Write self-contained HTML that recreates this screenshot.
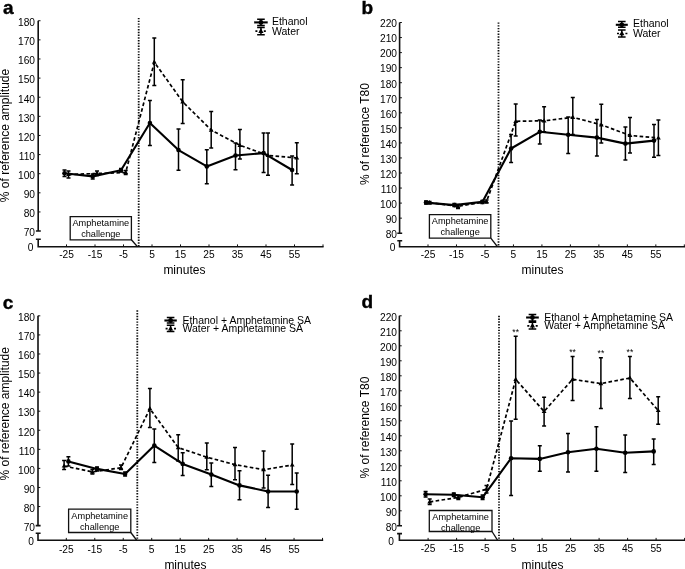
<!DOCTYPE html>
<html><head><meta charset="utf-8"><style>
html,body{margin:0;padding:0;background:#fff;}
body{width:685px;height:569px;overflow:hidden;}
svg{display:block;will-change:transform;}
text{font-family:"Liberation Sans", sans-serif;fill:#000;}
.tl{font-size:10.2px;}
.al{font-size:12px;}
.pl{font-size:19px;font-weight:bold;fill:#000;stroke:#000;stroke-width:0.4px;}
.bt{font-size:9.2px;}
.lg{font-size:10.5px;}
.st{font-size:8.6px;}
.ax{fill:none;stroke:#111;stroke-width:1.6;}
.tk{fill:none;stroke:#111;stroke-width:1;}
.dot{fill:none;stroke:#111;stroke-width:1.8;stroke-dasharray:1.4 1.37;}
.box{fill:none;stroke:#111;stroke-width:1.3;}
.sol{fill:none;stroke:#000;stroke-width:2.1;stroke-linejoin:round;}
.dsh{fill:none;stroke:#000;stroke-width:1.7;stroke-dasharray:3.6 2.4;}
.eb{fill:none;stroke:#000;stroke-width:1.5;}
circle,path:not([class]){fill:#000;}
</style></head><body>
<svg width="685" height="569" viewBox="0 0 685 569">
<path d="M38.2 20.74V231.06M35.9 231.06H40.8M35.9 239.2H40.8M38.2 239.2V246.7H323.6" class="ax"/>
<text x="35" y="26.04" class="tl" text-anchor="end">180</text>
<text x="35" y="45.16" class="tl" text-anchor="end">170</text>
<text x="35" y="64.28" class="tl" text-anchor="end">160</text>
<text x="35" y="83.4" class="tl" text-anchor="end">150</text>
<text x="35" y="102.52" class="tl" text-anchor="end">140</text>
<text x="35" y="121.64" class="tl" text-anchor="end">130</text>
<text x="35" y="140.76" class="tl" text-anchor="end">120</text>
<text x="35" y="159.88" class="tl" text-anchor="end">110</text>
<text x="35" y="179" class="tl" text-anchor="end">100</text>
<text x="35" y="198.12" class="tl" text-anchor="end">90</text>
<text x="35" y="217.24" class="tl" text-anchor="end">80</text>
<text x="35" y="236.36" class="tl" text-anchor="end">70</text>
<path d="M38.2 20.74h2.3M38.2 39.86h2.3M38.2 58.98h2.3M38.2 78.1h2.3M38.2 97.22h2.3M38.2 116.34h2.3M38.2 135.46h2.3M38.2 154.58h2.3M38.2 173.7h2.3M38.2 192.82h2.3M38.2 211.94h2.3" class="tk"/>
<text x="33.5" y="251.4" class="tl" text-anchor="end">0</text>
<text x="66.5" y="257.8" class="tl" text-anchor="middle">-25</text>
<text x="95" y="257.8" class="tl" text-anchor="middle">-15</text>
<text x="123.5" y="257.8" class="tl" text-anchor="middle">-5</text>
<text x="152" y="257.8" class="tl" text-anchor="middle">5</text>
<text x="180.5" y="257.8" class="tl" text-anchor="middle">15</text>
<text x="209" y="257.8" class="tl" text-anchor="middle">25</text>
<text x="237.5" y="257.8" class="tl" text-anchor="middle">35</text>
<text x="266" y="257.8" class="tl" text-anchor="middle">45</text>
<text x="294.5" y="257.8" class="tl" text-anchor="middle">55</text>
<path d="M66.5 246.7v-2.3M95 246.7v-2.3M123.5 246.7v-2.3M152 246.7v-2.3M180.5 246.7v-2.3M209 246.7v-2.3M237.5 246.7v-2.3M266 246.7v-2.3M294.5 246.7v-2.3M323 246.7v-2.3" class="tk"/>
<text x="184.4" y="273.9" class="al" text-anchor="middle">minutes</text>
<text transform="translate(8.8 135.5) rotate(-90)" class="al" text-anchor="middle">% of reference amplitude</text>
<text x="3" y="13.9" class="pl">a</text>
<path d="M138.7 17.9V246.7" class="dot"/>
<path d="M70.2 216.6H131.4V239.8H70.2Z" class="box"/>
<path d="M131.4 239.8L137.5 246.7" class="box"/>
<text x="100.8" y="226" class="bt" text-anchor="middle">Amphetamine</text>
<text x="100.8" y="237.2" class="bt" text-anchor="middle">challenge</text>
<path d="M64.5 173.2L92.7 176.4L121 170.2L149.9 123L178.5 150.1L206.8 166.4L235.5 155.5L263.6 153.1L292.1 170" class="sol"/>
<path d="M68.5 174.5L97 173.5L125.7 172.5L154.3 62.2L182.7 101.8L211.2 130.1L239.9 145.3L268 155.4L296.8 158" class="dsh"/>
<path d="M64.5 170V176.5M62.5 170h4M62.5 176.5h4M92.7 174V179M90.7 174h4M90.7 179h4M121 168.5V172M119 168.5h4M119 172h4M149.9 100.5V145.4M147.9 100.5h4M147.9 145.4h4M178.5 129V170.3M176.5 129h4M176.5 170.3h4M206.8 149.8V183.7M204.8 149.8h4M204.8 183.7h4M235.5 143.1V169.8M233.5 143.1h4M233.5 169.8h4M263.6 133V172.6M261.6 133h4M261.6 172.6h4M292.1 155.9V184.9M290.1 155.9h4M290.1 184.9h4" class="eb"/>
<path d="M68.5 171V178M66.5 171h4M66.5 178h4M97 171V175.5M95 171h4M95 175.5h4M125.7 170.5V174.5M123.7 170.5h4M123.7 174.5h4M154.3 37.9V85.4M152.3 37.9h4M152.3 85.4h4M182.7 79.7V123.5M180.7 79.7h4M180.7 123.5h4M211.2 111.6V148M209.2 111.6h4M209.2 148h4M239.9 129.5V158.9M237.9 129.5h4M237.9 158.9h4M268 133V175.2M266 133h4M266 175.2h4M296.8 142.7V173.8M294.8 142.7h4M294.8 173.8h4" class="eb"/>
<circle cx="64.5" cy="173.2" r="2.3"/>
<circle cx="92.7" cy="176.4" r="2.3"/>
<circle cx="121" cy="170.2" r="2.3"/>
<circle cx="149.9" cy="123" r="2.3"/>
<circle cx="178.5" cy="150.1" r="2.3"/>
<circle cx="206.8" cy="166.4" r="2.3"/>
<circle cx="235.5" cy="155.5" r="2.3"/>
<circle cx="263.6" cy="153.1" r="2.3"/>
<circle cx="292.1" cy="170" r="2.3"/>
<path d="M68.5 171.9L70.9 176.1H66.1Z"/>
<path d="M97 170.9L99.4 175.1H94.6Z"/>
<path d="M125.7 169.9L128.1 174.1H123.3Z"/>
<path d="M154.3 59.6L156.7 63.8H151.9Z"/>
<path d="M182.7 99.2L185.1 103.4H180.3Z"/>
<path d="M211.2 127.5L213.6 131.7H208.8Z"/>
<path d="M239.9 142.7L242.3 146.9H237.5Z"/>
<path d="M268 152.8L270.4 157H265.6Z"/>
<path d="M296.8 155.4L299.2 159.6H294.4Z"/>
<path d="M254.2 22.4H267.7" class="sol"/>
<path d="M254.2 31.1H267.7" class="dsh" style="stroke-dasharray:2 2.2;stroke-dashoffset:-1.2"/>
<path d="M260.95 19.3V25.4M257.15 19.3h7.6M257.15 25.4h7.6M260.95 27.5V34.7M257.15 27.5h7.6M257.15 34.7h7.6" class="eb" style="stroke-width:1.5"/>
<circle cx="260.95" cy="22.4" r="2.4"/>
<path d="M260.95 28.3L263.55 32.9H258.35Z"/>
<text x="271.9" y="24.6" class="lg">Ethanol</text>
<text x="271.9" y="34.6" class="lg">Water</text>
<path d="M399.6 22.5V233.2M397.3 233.2H402.2M397.3 240.8H402.2M399.6 240.8V246.7H685" class="ax"/>
<text x="397" y="27.3" class="tl" text-anchor="end">220</text>
<text x="397" y="42.35" class="tl" text-anchor="end">210</text>
<text x="397" y="57.4" class="tl" text-anchor="end">200</text>
<text x="397" y="72.45" class="tl" text-anchor="end">190</text>
<text x="397" y="87.5" class="tl" text-anchor="end">180</text>
<text x="397" y="102.55" class="tl" text-anchor="end">170</text>
<text x="397" y="117.6" class="tl" text-anchor="end">160</text>
<text x="397" y="132.65" class="tl" text-anchor="end">150</text>
<text x="397" y="147.7" class="tl" text-anchor="end">140</text>
<text x="397" y="162.75" class="tl" text-anchor="end">130</text>
<text x="397" y="177.8" class="tl" text-anchor="end">120</text>
<text x="397" y="192.85" class="tl" text-anchor="end">110</text>
<text x="397" y="207.9" class="tl" text-anchor="end">100</text>
<text x="397" y="222.95" class="tl" text-anchor="end">90</text>
<text x="397" y="238" class="tl" text-anchor="end">80</text>
<path d="M399.6 22.5h2.3M399.6 37.55h2.3M399.6 52.6h2.3M399.6 67.65h2.3M399.6 82.7h2.3M399.6 97.75h2.3M399.6 112.8h2.3M399.6 127.85h2.3M399.6 142.9h2.3M399.6 157.95h2.3M399.6 173h2.3M399.6 188.05h2.3M399.6 203.1h2.3M399.6 218.15h2.3" class="tk"/>
<text x="395.5" y="251.4" class="tl" text-anchor="end">0</text>
<text x="428" y="258" class="tl" text-anchor="middle">-25</text>
<text x="456.48" y="258" class="tl" text-anchor="middle">-15</text>
<text x="484.96" y="258" class="tl" text-anchor="middle">-5</text>
<text x="513.44" y="258" class="tl" text-anchor="middle">5</text>
<text x="541.92" y="258" class="tl" text-anchor="middle">15</text>
<text x="570.4" y="258" class="tl" text-anchor="middle">25</text>
<text x="598.88" y="258" class="tl" text-anchor="middle">35</text>
<text x="627.36" y="258" class="tl" text-anchor="middle">45</text>
<text x="655.84" y="258" class="tl" text-anchor="middle">55</text>
<path d="M428 246.7v-2.3M456.48 246.7v-2.3M484.96 246.7v-2.3M513.44 246.7v-2.3M541.92 246.7v-2.3M570.4 246.7v-2.3M598.88 246.7v-2.3M627.36 246.7v-2.3M655.84 246.7v-2.3M684.32 246.7v-2.3" class="tk"/>
<text x="542.5" y="273.9" class="al" text-anchor="middle">minutes</text>
<text transform="translate(369.3 134) rotate(-90)" class="al" text-anchor="middle">% of reference T80</text>
<text x="361.4" y="13.9" class="pl">b</text>
<path d="M498.5 22.4V246.7" class="dot"/>
<path d="M429.4 214.6H490.8V238.2H429.4Z" class="box"/>
<path d="M490.8 238.2L497.3 246.5" class="box"/>
<text x="460.1" y="224" class="bt" text-anchor="middle">Amphetamine</text>
<text x="460.1" y="235.2" class="bt" text-anchor="middle">challenge</text>
<path d="M426 202.6L454.4 205.1L482.4 201.9L511.1 148.5L539.8 131.8L568.2 134.8L596.9 137.6L625.4 143.6L654 140.6" class="sol"/>
<path d="M429.6 202.6L458 206.3L486.5 201.6L515.7 121.3L544.1 120.8L572.8 117.3L601.3 124.8L630 135.4L658.4 138" class="dsh"/>
<path d="M426 201V204M424 201h4M424 204h4M454.4 203.5V206.5M452.4 203.5h4M452.4 206.5h4M482.4 200.5V203.5M480.4 200.5h4M480.4 203.5h4M511.1 134.5V162.6M509.1 134.5h4M509.1 162.6h4M539.8 120V144.1M537.8 120h4M537.8 144.1h4M568.2 116.9V153.5M566.2 116.9h4M566.2 153.5h4M596.9 119.5V156.1M594.9 119.5h4M594.9 156.1h4M625.4 126.9V160M623.4 126.9h4M623.4 160h4M654 124.5V157.3M652 124.5h4M652 157.3h4" class="eb"/>
<path d="M429.6 201.5V204M427.6 201.5h4M427.6 204h4M458 204.5V208.5M456 204.5h4M456 208.5h4M486.5 200V203M484.5 200h4M484.5 203h4M515.7 104.1V135.9M513.7 104.1h4M513.7 135.9h4M544.1 106.7V131.8M542.1 106.7h4M542.1 131.8h4M572.8 97.6V134.5M570.8 97.6h4M570.8 134.5h4M601.3 104.3V142.9M599.3 104.3h4M599.3 142.9h4M630 117.4V152.9M628 117.4h4M628 152.9h4M658.4 120.1V155.6M656.4 120.1h4M656.4 155.6h4" class="eb"/>
<circle cx="426" cy="202.6" r="2.3"/>
<circle cx="454.4" cy="205.1" r="2.3"/>
<circle cx="482.4" cy="201.9" r="2.3"/>
<circle cx="511.1" cy="148.5" r="2.3"/>
<circle cx="539.8" cy="131.8" r="2.3"/>
<circle cx="568.2" cy="134.8" r="2.3"/>
<circle cx="596.9" cy="137.6" r="2.3"/>
<circle cx="625.4" cy="143.6" r="2.3"/>
<circle cx="654" cy="140.6" r="2.3"/>
<path d="M429.6 200L432 204.2H427.2Z"/>
<path d="M458 203.7L460.4 207.9H455.6Z"/>
<path d="M486.5 199L488.9 203.2H484.1Z"/>
<path d="M515.7 118.7L518.1 122.9H513.3Z"/>
<path d="M544.1 118.2L546.5 122.4H541.7Z"/>
<path d="M572.8 114.7L575.2 118.9H570.4Z"/>
<path d="M601.3 122.2L603.7 126.4H598.9Z"/>
<path d="M630 132.8L632.4 137H627.6Z"/>
<path d="M658.4 135.4L660.8 139.6H656Z"/>
<path d="M615.8 24.8H627.8" class="sol"/>
<path d="M615.8 33.5H627.8" class="dsh" style="stroke-dasharray:2 2.2;stroke-dashoffset:-1.2"/>
<path d="M621.8 21.4V27.2M618 21.4h7.6M618 27.2h7.6M621.8 30V37M618 30h7.6M618 37h7.6" class="eb" style="stroke-width:1.5"/>
<circle cx="621.8" cy="24.8" r="2.4"/>
<path d="M621.8 30.7L624.4 35.3H619.2Z"/>
<text x="633" y="27.2" class="lg">Ethanol</text>
<text x="633" y="37" class="lg">Water</text>
<path d="M38 315.84V525.61M35.7 525.61H40.6M35.7 533.2H40.6M38 533.2V540.2H323.2" class="ax"/>
<text x="35" y="321.14" class="tl" text-anchor="end">180</text>
<text x="35" y="340.21" class="tl" text-anchor="end">170</text>
<text x="35" y="359.28" class="tl" text-anchor="end">160</text>
<text x="35" y="378.35" class="tl" text-anchor="end">150</text>
<text x="35" y="397.42" class="tl" text-anchor="end">140</text>
<text x="35" y="416.49" class="tl" text-anchor="end">130</text>
<text x="35" y="435.56" class="tl" text-anchor="end">120</text>
<text x="35" y="454.63" class="tl" text-anchor="end">110</text>
<text x="35" y="473.7" class="tl" text-anchor="end">100</text>
<text x="35" y="492.77" class="tl" text-anchor="end">90</text>
<text x="35" y="511.84" class="tl" text-anchor="end">80</text>
<text x="35" y="530.91" class="tl" text-anchor="end">70</text>
<path d="M38 315.84h2.3M38 334.91h2.3M38 353.98h2.3M38 373.05h2.3M38 392.12h2.3M38 411.19h2.3M38 430.26h2.3M38 449.33h2.3M38 468.4h2.3M38 487.47h2.3M38 506.54h2.3" class="tk"/>
<text x="33.8" y="544.9" class="tl" text-anchor="end">0</text>
<text x="66.3" y="552.5" class="tl" text-anchor="middle">-25</text>
<text x="94.77" y="552.5" class="tl" text-anchor="middle">-15</text>
<text x="123.24" y="552.5" class="tl" text-anchor="middle">-5</text>
<text x="151.71" y="552.5" class="tl" text-anchor="middle">5</text>
<text x="180.18" y="552.5" class="tl" text-anchor="middle">15</text>
<text x="208.65" y="552.5" class="tl" text-anchor="middle">25</text>
<text x="237.12" y="552.5" class="tl" text-anchor="middle">35</text>
<text x="265.59" y="552.5" class="tl" text-anchor="middle">45</text>
<text x="294.06" y="552.5" class="tl" text-anchor="middle">55</text>
<path d="M66.3 540.2v-2.3M94.77 540.2v-2.3M123.24 540.2v-2.3M151.71 540.2v-2.3M180.18 540.2v-2.3M208.65 540.2v-2.3M237.12 540.2v-2.3M265.59 540.2v-2.3M294.06 540.2v-2.3M322.53 540.2v-2.3" class="tk"/>
<text x="185.4" y="568.9" class="al" text-anchor="middle">minutes</text>
<text transform="translate(8.8 413.8) rotate(-90)" class="al" text-anchor="middle">% of reference amplitude</text>
<text x="2.7" y="308.8" class="pl">c</text>
<path d="M137.3 310.3V540.2" class="dot"/>
<path d="M68.6 509.2H130.8V532.5H68.6Z" class="box"/>
<path d="M130.8 532.5L136.9 540.5" class="box"/>
<text x="99.7" y="518.6" class="bt" text-anchor="middle">Amphetamine</text>
<text x="99.7" y="529.8" class="bt" text-anchor="middle">challenge</text>
<path d="M68.4 461.4L97 468.9L125.1 474L154.3 445.6L182.7 463.9L211.3 474.6L239.5 485.4L268.1 491.5L296.7 491.5" class="sol"/>
<path d="M64.1 466L92.4 471.9L121 467.8L149.9 408.7L178.2 447.6L206.8 457.2L235 464.6L263.6 469.7L292.2 465" class="dsh"/>
<path d="M68.4 456.7V466M66.4 456.7h4M66.4 466h4M97 467V471M95 467h4M95 471h4M125.1 472V476M123.1 472h4M123.1 476h4M154.3 428.9V462.6M152.3 428.9h4M152.3 462.6h4M182.7 452.7V475.6M180.7 452.7h4M180.7 475.6h4M211.3 462.9V486.4M209.3 462.9h4M209.3 486.4h4M239.5 470.7V499.7M237.5 470.7h4M237.5 499.7h4M268.1 475.2V507.5M266.1 475.2h4M266.1 507.5h4M296.7 473.1V509.3M294.7 473.1h4M294.7 509.3h4" class="eb"/>
<path d="M64.1 460.5V469.5M62.1 460.5h4M62.1 469.5h4M92.4 469.5V474M90.4 469.5h4M90.4 474h4M121 464.9V469.5M119 464.9h4M119 469.5h4M149.9 388.5V427.6M147.9 388.5h4M147.9 427.6h4M178.2 434.7V460.9M176.2 434.7h4M176.2 460.9h4M206.8 442.9V469.7M204.8 442.9h4M204.8 469.7h4M235 447.6V479.7M233 447.6h4M233 479.7h4M263.6 451.1V488.1M261.6 451.1h4M261.6 488.1h4M292.2 443.9V484.4M290.2 443.9h4M290.2 484.4h4" class="eb"/>
<circle cx="68.4" cy="461.4" r="2.3"/>
<circle cx="97" cy="468.9" r="2.3"/>
<circle cx="125.1" cy="474" r="2.3"/>
<circle cx="154.3" cy="445.6" r="2.3"/>
<circle cx="182.7" cy="463.9" r="2.3"/>
<circle cx="211.3" cy="474.6" r="2.3"/>
<circle cx="239.5" cy="485.4" r="2.3"/>
<circle cx="268.1" cy="491.5" r="2.3"/>
<circle cx="296.7" cy="491.5" r="2.3"/>
<path d="M64.1 463.4L66.5 467.6H61.7Z"/>
<path d="M92.4 469.3L94.8 473.5H90Z"/>
<path d="M121 465.2L123.4 469.4H118.6Z"/>
<path d="M149.9 406.1L152.3 410.3H147.5Z"/>
<path d="M178.2 445L180.6 449.2H175.8Z"/>
<path d="M206.8 454.6L209.2 458.8H204.4Z"/>
<path d="M235 462L237.4 466.2H232.6Z"/>
<path d="M263.6 467.1L266 471.3H261.2Z"/>
<path d="M292.2 462.4L294.6 466.6H289.8Z"/>
<path d="M164.4 320.5H176.8" class="sol"/>
<path d="M164.4 328.7H176.8" class="dsh" style="stroke-dasharray:2 2.2;stroke-dashoffset:-1.2"/>
<path d="M170.6 317.4V323.1M166.8 317.4h7.6M166.8 323.1h7.6M170.6 325.3V331.5M166.8 325.3h7.6M166.8 331.5h7.6" class="eb" style="stroke-width:1.5"/>
<circle cx="170.6" cy="320.5" r="2.4"/>
<path d="M170.6 325.9L173.2 330.5H168Z"/>
<text x="182.4" y="323.6" class="lg">Ethanol + Amphetamine SA</text>
<text x="182.4" y="331.9" class="lg">Water + Amphetamine SA</text>
<path d="M399.4 315.8V525.8M397.1 525.8H402M397.1 533.6H402M399.4 533.6V540.2H685" class="ax"/>
<text x="397" y="321.1" class="tl" text-anchor="end">220</text>
<text x="397" y="336.1" class="tl" text-anchor="end">210</text>
<text x="397" y="351.1" class="tl" text-anchor="end">200</text>
<text x="397" y="366.1" class="tl" text-anchor="end">190</text>
<text x="397" y="381.1" class="tl" text-anchor="end">180</text>
<text x="397" y="396.1" class="tl" text-anchor="end">170</text>
<text x="397" y="411.1" class="tl" text-anchor="end">160</text>
<text x="397" y="426.1" class="tl" text-anchor="end">150</text>
<text x="397" y="441.1" class="tl" text-anchor="end">140</text>
<text x="397" y="456.1" class="tl" text-anchor="end">130</text>
<text x="397" y="471.1" class="tl" text-anchor="end">120</text>
<text x="397" y="486.1" class="tl" text-anchor="end">110</text>
<text x="397" y="501.1" class="tl" text-anchor="end">100</text>
<text x="397" y="516.1" class="tl" text-anchor="end">90</text>
<text x="397" y="531.1" class="tl" text-anchor="end">80</text>
<path d="M399.4 315.8h2.3M399.4 330.8h2.3M399.4 345.8h2.3M399.4 360.8h2.3M399.4 375.8h2.3M399.4 390.8h2.3M399.4 405.8h2.3M399.4 420.8h2.3M399.4 435.8h2.3M399.4 450.8h2.3M399.4 465.8h2.3M399.4 480.8h2.3M399.4 495.8h2.3M399.4 510.8h2.3" class="tk"/>
<text x="393.8" y="544.9" class="tl" text-anchor="end">0</text>
<text x="428.1" y="552" class="tl" text-anchor="middle">-25</text>
<text x="456.6" y="552" class="tl" text-anchor="middle">-15</text>
<text x="485.1" y="552" class="tl" text-anchor="middle">-5</text>
<text x="513.6" y="552" class="tl" text-anchor="middle">5</text>
<text x="542.1" y="552" class="tl" text-anchor="middle">15</text>
<text x="570.6" y="552" class="tl" text-anchor="middle">25</text>
<text x="599.1" y="552" class="tl" text-anchor="middle">35</text>
<text x="627.6" y="552" class="tl" text-anchor="middle">45</text>
<text x="656.1" y="552" class="tl" text-anchor="middle">55</text>
<path d="M428.1 540.2v-2.3M456.6 540.2v-2.3M485.1 540.2v-2.3M513.6 540.2v-2.3M542.1 540.2v-2.3M570.6 540.2v-2.3M599.1 540.2v-2.3M627.6 540.2v-2.3M656.1 540.2v-2.3M684.6 540.2v-2.3" class="tk"/>
<text x="542.5" y="568.9" class="al" text-anchor="middle">minutes</text>
<text transform="translate(369.3 427.6) rotate(-90)" class="al" text-anchor="middle">% of reference T80</text>
<text x="361.5" y="308.3" class="pl">d</text>
<path d="M499 315.8V540.2" class="dot"/>
<path d="M429.3 510.5H492V531.5H429.3Z" class="box"/>
<path d="M492 531.5L497.7 540.3" class="box"/>
<text x="460.65" y="519.9" class="bt" text-anchor="middle">Amphetamine</text>
<text x="460.65" y="531.1" class="bt" text-anchor="middle">challenge</text>
<path d="M425.6 494.3L453.8 494.7L482.6 497.3L511.1 458.3L539.8 458.9L568 452.3L596.4 448.7L625.2 452.7L653.7 451.4" class="sol"/>
<path d="M429.7 501.9L458.3 497.4L486.5 489.2L515.7 379.4L544.1 411.4L572.6 379.3L600.9 383.6L629.9 378L658.2 410.5" class="dsh"/>
<path d="M425.6 491.5V497M423.6 491.5h4M423.6 497h4M453.8 493V496.5M451.8 493h4M451.8 496.5h4M482.6 495V499.5M480.6 495h4M480.6 499.5h4M511.1 421.1V495.4M509.1 421.1h4M509.1 495.4h4M539.8 445.7V471.2M537.8 445.7h4M537.8 471.2h4M568 433.5V472M566 433.5h4M566 472h4M596.4 426.8V471.2M594.4 426.8h4M594.4 471.2h4M625.2 435V472.5M623.2 435h4M623.2 472.5h4M653.7 439V464.6M651.7 439h4M651.7 464.6h4" class="eb"/>
<path d="M429.7 499V504.5M427.7 499h4M427.7 504.5h4M458.3 495.5V499.5M456.3 495.5h4M456.3 499.5h4M486.5 485.5V493M484.5 485.5h4M484.5 493h4M515.7 336.3V419.3M513.7 336.3h4M513.7 419.3h4M544.1 397.3V426M542.1 397.3h4M542.1 426h4M572.6 356.6V400.6M570.6 356.6h4M570.6 400.6h4M600.9 357.7V408.4M598.9 357.7h4M598.9 408.4h4M629.9 356.4V398.6M627.9 356.4h4M627.9 398.6h4M658.2 396.8V424.2M656.2 396.8h4M656.2 424.2h4" class="eb"/>
<circle cx="425.6" cy="494.3" r="2.3"/>
<circle cx="453.8" cy="494.7" r="2.3"/>
<circle cx="482.6" cy="497.3" r="2.3"/>
<circle cx="511.1" cy="458.3" r="2.3"/>
<circle cx="539.8" cy="458.9" r="2.3"/>
<circle cx="568" cy="452.3" r="2.3"/>
<circle cx="596.4" cy="448.7" r="2.3"/>
<circle cx="625.2" cy="452.7" r="2.3"/>
<circle cx="653.7" cy="451.4" r="2.3"/>
<path d="M429.7 499.3L432.1 503.5H427.3Z"/>
<path d="M458.3 494.8L460.7 499H455.9Z"/>
<path d="M486.5 486.6L488.9 490.8H484.1Z"/>
<path d="M515.7 376.8L518.1 381H513.3Z"/>
<path d="M544.1 408.8L546.5 413H541.7Z"/>
<path d="M572.6 376.7L575 380.9H570.2Z"/>
<path d="M600.9 381L603.3 385.2H598.5Z"/>
<path d="M629.9 375.4L632.3 379.6H627.5Z"/>
<path d="M658.2 407.9L660.6 412.1H655.8Z"/>
<text x="515.7" y="334.9" class="st" text-anchor="middle">**</text>
<text x="572.6" y="355.1" class="st" text-anchor="middle">**</text>
<text x="600.9" y="356.3" class="st" text-anchor="middle">**</text>
<text x="629.9" y="354.8" class="st" text-anchor="middle">**</text>
<path d="M526.1 317.5H538.8" class="sol"/>
<path d="M526.1 325.8H538.8" class="dsh" style="stroke-dasharray:2 2.2;stroke-dashoffset:-1.2"/>
<path d="M532.45 314.4V321M528.65 314.4h7.6M528.65 321h7.6M532.45 322.2V328.9M528.65 322.2h7.6M528.65 328.9h7.6" class="eb" style="stroke-width:1.5"/>
<circle cx="532.45" cy="317.5" r="2.4"/>
<path d="M532.45 323L535.05 327.6H529.85Z"/>
<text x="544.2" y="320.6" class="lg">Ethanol + Amphetamine SA</text>
<text x="544.2" y="328.5" class="lg">Water + Amphetamine SA</text>
</svg>
</body></html>
